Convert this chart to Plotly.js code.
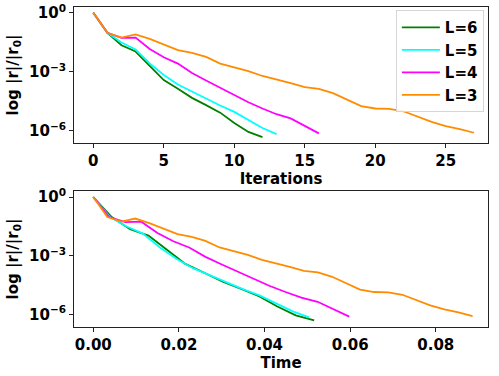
<!DOCTYPE html>
<html>
<head>
<meta charset="utf-8">
<script src="https://cdn.plot.ly/plotly-3.0.1.min.js"></script>
<style>
  html, body { margin: 0; padding: 0; background: #fff; }
  #plot { width: 499px; height: 376px; }
</style>
</head>
<body>
<div id="plot"></div>
<script>
// residual history, log10(|r|/|r0|) per iteration
const levels = ["L=6", "L=5", "L=4", "L=3"];
const colors = ["#008000", "#00ffff", "#ff00ff", "#ff8c00"];

const logResL6 = [0, -1.02, -1.65, -1.97, -2.70, -3.42, -3.86, -4.32, -4.69, -5.07, -5.60, -6.05, -6.31];
const logResL5 = [0, -1.02, -1.51, -1.87, -2.57, -3.16, -3.64, -4.00, -4.35, -4.71, -5.03, -5.44, -5.85, -6.16];
const logResL4 = [0, -1.02, -1.28, -1.26, -1.84, -2.26, -2.58, -3.06, -3.44, -3.81, -4.17, -4.54, -4.86, -5.15, -5.36, -5.75, -6.12];
const logResL3 = [0, -1.02, -1.26, -1.10, -1.33, -1.62, -1.90, -2.04, -2.24, -2.58, -2.76, -2.96, -3.21, -3.38, -3.57,
                  -3.78, -3.86, -4.08, -4.40, -4.74, -4.86, -4.88, -5.00, -5.27, -5.54, -5.75, -5.90, -6.09];

const iterL6 = [0, 1, 2, 3, 4, 5, 6, 7, 8, 9, 10, 11, 12];
const iterL5 = [0, 1, 2, 3, 4, 5, 6, 7, 8, 9, 10, 11, 12, 13];
const iterL4 = [0, 1, 2, 3, 4, 5, 6, 7, 8, 9, 10, 11, 12, 13, 14, 15, 16];
const iterL3 = [0, 1, 2, 3, 4, 5, 6, 7, 8, 9, 10, 11, 12, 13, 14, 15, 16, 17, 18, 19, 20, 21, 22, 23, 24, 25, 26, 27];

const timeL6 = [0, 0.0043, 0.0086, 0.0129, 0.0172, 0.0215, 0.0258, 0.0301, 0.0344, 0.0387, 0.0430, 0.0473, 0.0516];
const timeL5 = [0, 0.0039, 0.0078, 0.0116, 0.0155, 0.0194, 0.0233, 0.0272, 0.0310, 0.0349, 0.0388, 0.0427, 0.0466, 0.0504];
const timeL4 = [0, 0.0037, 0.0075, 0.0112, 0.0150, 0.0187, 0.0224, 0.0262, 0.0299, 0.0337, 0.0374, 0.0411, 0.0449,
                0.0486, 0.0524, 0.0561, 0.0598];
const timeL3 = [0, 0.0033, 0.0066, 0.0098, 0.0131, 0.0164, 0.0197, 0.0230, 0.0262, 0.0295, 0.0328, 0.0361, 0.0394,
                0.0426, 0.0459, 0.0492, 0.0525, 0.0558, 0.0590, 0.0623, 0.0656, 0.0689, 0.0722, 0.0754, 0.0787,
                0.0820, 0.0853, 0.0886];

const yTickVals = [1, 1e-3, 1e-6];
const yTickText = ["10<sup>0</sup>", "10<sup>\u22123</sup>", "10<sup>\u22126</sup>"];
const iterTicks = [0, 5, 10, 15, 20, 25];
const timeTicks = [0, 0.02, 0.04, 0.06, 0.08];

const logRes = [logResL6, logResL5, logResL4, logResL3];
const iters = [iterL6, iterL5, iterL4, iterL3];
const times = [timeL6, timeL5, timeL4, timeL3];

const font = "DejaVu Sans, sans-serif";
const toRes = arr => arr.map(v => Math.pow(10, v));

const traces = [];
levels.forEach((name, k) => {
  traces.push({
    x: iters[k], y: toRes(logRes[k]),
    xaxis: "x", yaxis: "y",
    type: "scatter", mode: "lines", name: name,
    line: { color: colors[k], width: 1.8 },
    legendgroup: name
  });
});
levels.forEach((name, k) => {
  traces.push({
    x: times[k], y: toRes(logRes[k]),
    xaxis: "x2", yaxis: "y2",
    type: "scatter", mode: "lines", name: name,
    line: { color: colors[k], width: 1.8 },
    legendgroup: name, showlegend: false
  });
});

const tickfont = { family: font, size: 15, color: "#000", weight: "bold" };
const axisBase = {
  showline: true, mirror: true, linecolor: "#222", linewidth: 1,
  ticks: "outside", ticklen: 4, tickcolor: "#222",
  showgrid: false, zeroline: false, tickfont: tickfont
};
const titleFont = { family: font, size: 15, color: "#000", weight: "bold" };

const layout = {
  width: 499, height: 376,
  margin: { l: 74, r: 11, t: 7, b: 49 },
  paper_bgcolor: "#fff", plot_bgcolor: "#fff",
  font: { family: font, color: "#000" },
  xaxis: Object.assign({}, axisBase, {
    anchor: "y", domain: [0, 1], range: [-1.37, 28.0],
    tickvals: iterTicks,
    title: { text: "Iterations", font: titleFont, standoff: 0 }
  }),
  yaxis: Object.assign({}, axisBase, {
    anchor: "x", domain: [0.575, 1], type: "log", range: [-6.61, 0.29],
    tickvals: yTickVals, ticktext: yTickText,
    title: { text: "log |r|/|r<sub>0</sub>|", font: titleFont, standoff: 6 }
  }),
  xaxis2: Object.assign({}, axisBase, {
    anchor: "y2", domain: [0, 1], range: [-0.0045, 0.0922],
    tickvals: timeTicks, tickformat: ".2f",
    title: { text: "Time", font: titleFont, standoff: 0 }
  }),
  yaxis2: Object.assign({}, axisBase, {
    anchor: "x2", domain: [0, 0.425], type: "log", range: [-6.65, 0.31],
    tickvals: yTickVals, ticktext: yTickText,
    title: { text: "log |r|/|r<sub>0</sub>|", font: titleFont, standoff: 6 }
  }),
  showlegend: true,
  legend: {
    x: 0.99, xanchor: "right", y: 0.99, yanchor: "top",
    bgcolor: "rgba(255,255,255,0.85)", bordercolor: "#d6d6d6", borderwidth: 1,
    font: { family: font, size: 15, color: "#000", weight: "bold" },
    itemwidth: 38, tracegroupgap: 0
  }
};

Plotly.newPlot("plot", traces, layout, { displayModeBar: false, staticPlot: true });
</script>
</body>
</html>
